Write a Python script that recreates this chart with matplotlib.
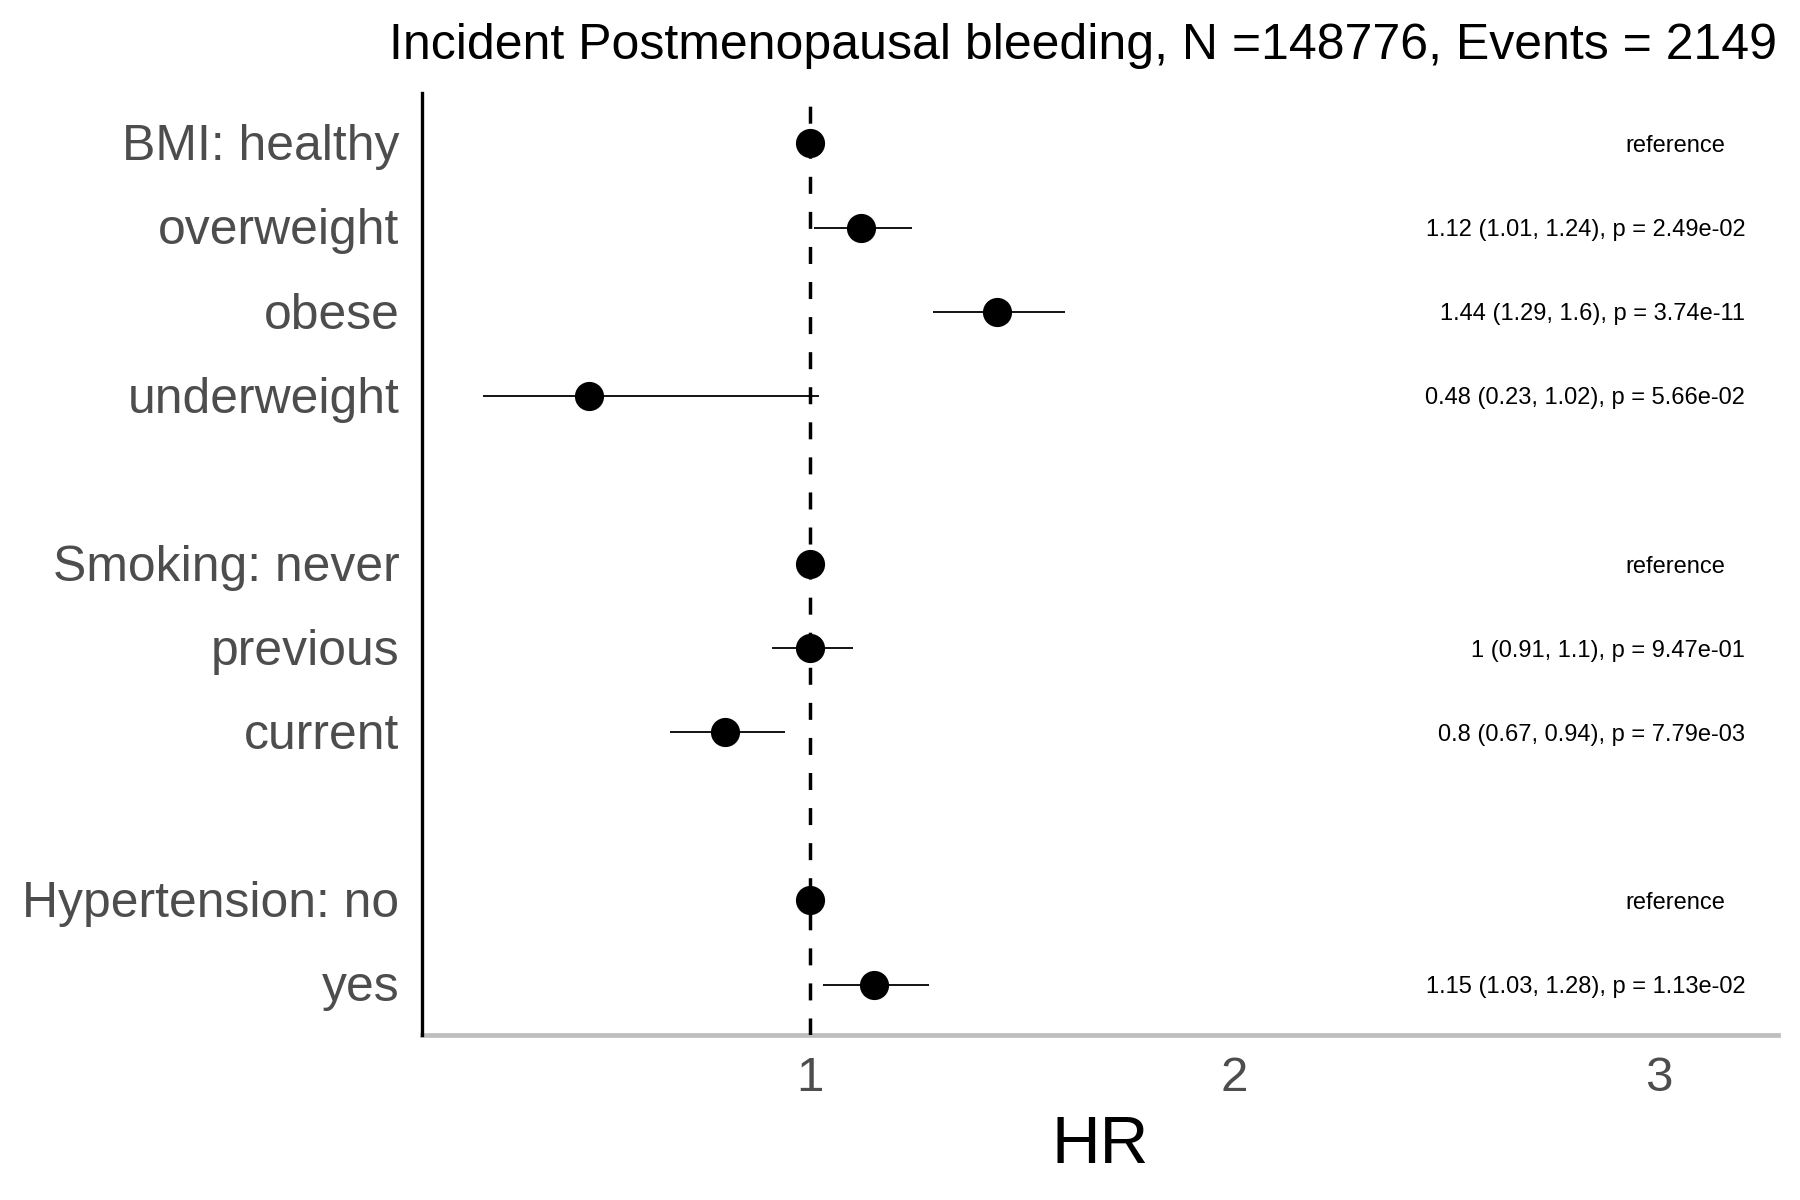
import numpy as np
import matplotlib
matplotlib.use("Agg")
import matplotlib.pyplot as plt
import matplotlib.transforms as mtransforms

plt.rcParams['font.family'] = ['Liberation Sans', 'DejaVu Sans']

# ---- data ----
row_labels = ["BMI: healthy", "overweight", "obese", "underweight", "",
              "Smoking: never", "previous", "current", "",
              "Hypertension: no", "yes"]
hr = [1.0, 1.12, 1.44, 0.48, np.nan, 1.0, 1.0, 0.8, np.nan, 1.0, 1.15]
ci_low = [np.nan, 1.01, 1.29, 0.23, np.nan, np.nan, 0.91, 0.67, np.nan, np.nan, 1.03]
ci_high = [np.nan, 1.24, 1.6, 1.02, np.nan, np.nan, 1.1, 0.94, np.nan, np.nan, 1.28]
p_values = ["", "2.49e-02", "3.74e-11", "5.66e-02", "", "", "9.47e-01", "7.79e-03",
            "", "", "1.13e-02"]
is_reference = [True, False, False, False, False, True, False, False, False, True, False]
x_ticks = [1, 2, 3]
title = "Incident Postmenopausal bleeding, N =148776, Events = 2149"
x_label = "HR"

# ---- figure ----
fig = plt.figure(figsize=(18, 12), dpi=100)
ax = fig.add_axes([0.2342, 0.1375, 0.9878 - 0.2342, 0.9225 - 0.1375])

y = np.arange(len(row_labels))
hr_a = np.array(hr)
lo_a = np.array(ci_low)
hi_a = np.array(ci_high)

ax.axvline(1, color='black', lw=2.5, ls=(0, (4.9, 5.2)), zorder=1)
ax.hlines(y, lo_a, hi_a, color='black', lw=1.3, zorder=2)
ax.plot(hr_a, y, 'o', color='black', markersize=21, markeredgewidth=0, zorder=3)

for i in range(len(row_labels)):
    if row_labels[i] == "":
        continue
    if is_reference[i]:
        ax.text(3.037, y[i], "reference", ha='center', va='center_baseline',
                fontsize=17.0, color='black')
    else:
        s = f"{hr[i]:g} ({ci_low[i]:g}, {ci_high[i]:g}), p = {p_values[i]}"
        ax.text(3.203, y[i], s, ha='right', va='center_baseline', fontsize=17.0,
                color='black')

ax.set_xlim(0.0848, 3.280)
ax.set_ylim(len(row_labels) - 1 + 0.6, -0.6)
ax.set_yticks(y)
ax.set_yticklabels(row_labels)
ax.set_xticks(x_ticks)
ax.set_xticklabels([str(t) for t in x_ticks])
ax.tick_params(axis='both', length=0, labelcolor='#4D4D4D')
ax.tick_params(axis='y', pad=16, labelsize=35.9)
ax.tick_params(axis='x', pad=15, labelsize=35.5)

lift = mtransforms.ScaledTranslation(0, 0.8 / 72, fig.dpi_scale_trans)
for lbl in ax.get_yticklabels():
    lbl.set_transform(lbl.get_transform() + lift)

for s in ['top', 'right']:
    ax.spines[s].set_visible(False)
ax.spines['left'].set_color('black')
ax.spines['left'].set_linewidth(2.4)
ax.spines['bottom'].set_color('#BEBEBE')
ax.spines['bottom'].set_linewidth(3.4)
ax.spines['bottom'].set_zorder(0.5)

fig.text(1083 / 1800, 1 - 59 / 1200, title, ha='center', va='baseline',
         fontsize=36, color='black')
fig.text((0.2342 + 0.9878) / 2, 1 - 1162.7 / 1200, x_label, ha='center',
         va='baseline', fontsize=48.6, color='black')

fig.savefig("out.png", dpi=100, facecolor='white')
